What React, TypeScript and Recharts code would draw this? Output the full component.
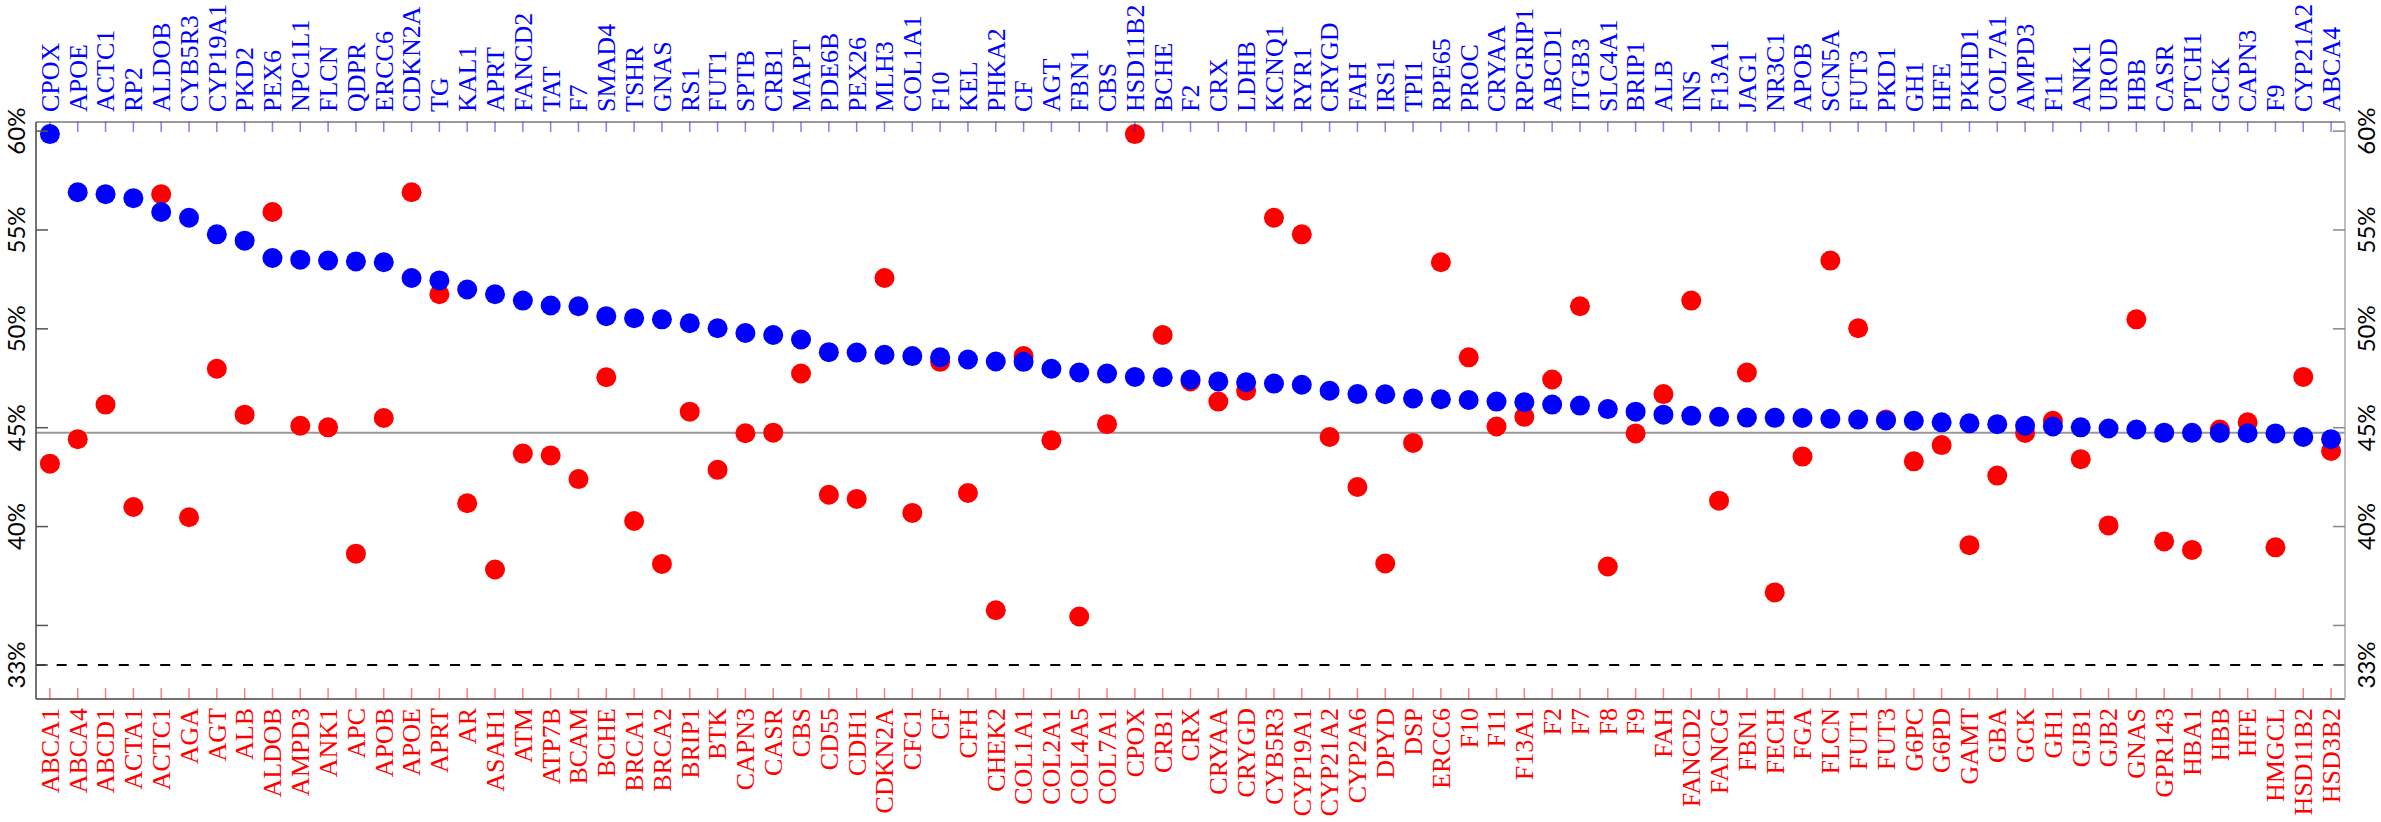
import React from 'react';
import { ScatterChart, Scatter, XAxis, YAxis, ReferenceLine } from 'recharts';

// genes sorted alphabetically (bottom axis, red)
const redGenes = [
  'ABCA1', 'ABCA4', 'ABCD1', 'ACTA1', 'ACTC1', 'AGA', 'AGT', 'ALB', 'ALDOB', 'AMPD3',
  'ANK1', 'APC', 'APOB', 'APOE', 'APRT', 'AR', 'ASAH1', 'ATM', 'ATP7B', 'BCAM',
  'BCHE', 'BRCA1', 'BRCA2', 'BRIP1', 'BTK', 'CAPN3', 'CASR', 'CBS', 'CD55', 'CDH1',
  'CDKN2A', 'CFC1', 'CF', 'CFH', 'CHEK2', 'COL1A1', 'COL2A1', 'COL4A5', 'COL7A1', 'CPOX',
  'CRB1', 'CRX', 'CRYAA', 'CRYGD', 'CYB5R3', 'CYP19A1', 'CYP21A2', 'CYP2A6', 'DPYD', 'DSP',
  'ERCC6', 'F10', 'F11', 'F13A1', 'F2', 'F7', 'F8', 'F9', 'FAH', 'FANCD2',
  'FANCG', 'FBN1', 'FECH', 'FGA', 'FLCN', 'FUT1', 'FUT3', 'G6PC', 'G6PD', 'GAMT',
  'GBA', 'GCK', 'GH1', 'GJB1', 'GJB2', 'GNAS', 'GPR143', 'HBA1', 'HBB', 'HFE',
  'HMGCL', 'HSD11B2', 'HSD3B2',
];

const redValues = [
  43.18, 44.42, 46.17, 40.99, 56.81, 40.47, 47.98, 45.66, 55.91, 45.10,
  45.02, 38.63, 45.49, 56.91, 51.75, 41.18, 37.83, 43.69, 43.60, 42.40,
  47.55, 40.28, 38.11, 45.81, 42.87, 44.72, 44.75, 47.74, 41.61, 41.40,
  52.57, 40.69, 48.33, 41.70, 35.77, 48.62, 44.36, 35.45, 45.18, 59.85,
  49.69, 47.34, 46.32, 46.87, 55.62, 54.78, 44.53, 42.00, 38.13, 44.23,
  53.37, 48.56, 45.06, 45.55, 47.44, 51.14, 37.98, 44.71, 46.70, 51.43,
  41.31, 47.79, 36.67, 43.54, 53.45, 50.03, 45.41, 43.30, 44.12, 39.06,
  42.58, 44.73, 45.35, 43.41, 40.06, 50.48, 39.25, 38.82, 44.91, 45.27,
  38.95, 47.57, 43.82,
];

// genes sorted by value (top axis, blue)
const blueGenes = [
  'CPOX', 'APOE', 'ACTC1', 'RP2', 'ALDOB', 'CYB5R3', 'CYP19A1', 'PKD2', 'PEX6', 'NPC1L1',
  'FLCN', 'QDPR', 'ERCC6', 'CDKN2A', 'TG', 'KAL1', 'APRT', 'FANCD2', 'TAT', 'F7',
  'SMAD4', 'TSHR', 'GNAS', 'RS1', 'FUT1', 'SPTB', 'CRB1', 'MAPT', 'PDE6B', 'PEX26',
  'MLH3', 'COL1A1', 'F10', 'KEL', 'PHKA2', 'CF', 'AGT', 'FBN1', 'CBS', 'HSD11B2',
  'BCHE', 'F2', 'CRX', 'LDHB', 'KCNQ1', 'RYR1', 'CRYGD', 'FAH', 'IRS1', 'TPI1',
  'RPE65', 'PROC', 'CRYAA', 'RPGRIP1', 'ABCD1', 'ITGB3', 'SLC4A1', 'BRIP1', 'ALB', 'INS',
  'F13A1', 'JAG1', 'NR3C1', 'APOB', 'SCN5A', 'FUT3', 'PKD1', 'GH1', 'HFE', 'PKHD1',
  'COL7A1', 'AMPD3', 'F11', 'ANK1', 'UROD', 'HBB', 'CASR', 'PTCH1', 'GCK', 'CAPN3',
  'F9', 'CYP21A2', 'ABCA4',
];

const blueValues = [
  59.85, 56.91, 56.81, 56.61, 55.91, 55.62, 54.78, 54.46, 53.58, 53.50,
  53.45, 53.41, 53.37, 52.57, 52.45, 51.99, 51.75, 51.43, 51.18, 51.14,
  50.64, 50.54, 50.48, 50.28, 50.03, 49.79, 49.69, 49.46, 48.82, 48.80,
  48.69, 48.62, 48.56, 48.45, 48.35, 48.33, 47.98, 47.79, 47.74, 47.57,
  47.55, 47.44, 47.34, 47.30, 47.23, 47.17, 46.87, 46.70, 46.69, 46.48,
  46.44, 46.40, 46.32, 46.29, 46.17, 46.12, 45.94, 45.81, 45.66, 45.60,
  45.55, 45.51, 45.50, 45.49, 45.45, 45.41, 45.37, 45.35, 45.27, 45.22,
  45.18, 45.10, 45.06, 45.02, 44.96, 44.91, 44.75, 44.74, 44.73, 44.72,
  44.71, 44.53, 44.42,
];

const yTicks = [33, 35, 40, 45, 50, 55, 60];
const yTickLabels: Record<number, string> = { 33: '33%', 35: '', 40: '40%', 45: '45%', 50: '50%', 55: '55%', 60: '60%' };
const meanLevel = 44.75;
const floorLevel = 33;

const redPoints = redValues.map((value, idx) => ({ idx, value }));
const bluePoints = blueValues.map((value, idx) => ({ idx, value }));
const positions = redGenes.map((_, i) => i);

const serif = "'Liberation Serif', 'Times New Roman', serif";
const sans = "Lato, 'Open Sans', sans-serif";

function BottomTick({ x, y, payload }: any) {
  return (
    <g transform={`translate(${x},${y})`}>
      <line x1={0} y1={0} x2={0} y2={-11} stroke="#ff0000" strokeOpacity={0.5} strokeWidth={1.5} />
      <text transform="rotate(-90)" x={-9} y={0} dy="0.34em" textAnchor="end" fill="#ff0000" fontFamily={serif} fontSize={26}>
        {redGenes[payload.value]}
      </text>
    </g>
  );
}

function TopTick({ x, y, payload }: any) {
  return (
    <g transform={`translate(${x},${y})`}>
      <line x1={0} y1={0} x2={0} y2={10} stroke="#0000ff" strokeOpacity={0.5} strokeWidth={1.5} />
      <text transform="rotate(-90)" x={10} y={0} dy="0.34em" textAnchor="start" fill="#0000ff" fontFamily={serif} fontSize={26}>
        {blueGenes[payload.value]}
      </text>
    </g>
  );
}

// rotated percent labels, baseline kept close to the frame
function LeftTick({ x, y, payload }: any) {
  return (
    <g transform={`translate(${x},${y})`}>
      <line x1={0} y1={0} x2={12} y2={0} stroke="#555" strokeWidth={1.5} />
      <text transform="rotate(-90)" x={0} y={-11} textAnchor="middle" fill="#000" fontFamily={sans} fontSize={24}>
        {yTickLabels[payload.value]}
      </text>
    </g>
  );
}

function RightTick({ x, y, payload }: any) {
  return (
    <g transform={`translate(${x},${y})`}>
      <line x1={0} y1={0} x2={-12} y2={0} stroke="#888" strokeWidth={1.5} />
      <text transform="rotate(-90)" x={0} y={30} textAnchor="middle" fill="#000" fontFamily={sans} fontSize={24}>
        {yTickLabels[payload.value]}
      </text>
    </g>
  );
}

const dot = (color: string) => (props: any) => (
  <circle cx={props.cx} cy={props.cy} r={10} fill={color} stroke="none" />
);

export default function App() {
  return (
    <div style={{ position: 'absolute', left: 0, top: 0, width: 2381, height: 822, background: '#fff' }}>
      <ScatterChart width={2381} height={822} margin={{ top: 0, right: 0, bottom: 0, left: 0 }}>
        <XAxis
          xAxisId="bottom"
          type="number"
          dataKey="idx"
          domain={[-0.5, 82.5]}
          ticks={positions}
          interval={0}
          allowDataOverflow
          height={123}
          tickSize={0}
          tickMargin={0}
          tickLine={false}
          tick={<BottomTick />}
          axisLine={{ stroke: '#444', strokeWidth: 1.5 }}
        />
        <XAxis
          xAxisId="top"
          orientation="top"
          type="number"
          dataKey="idx"
          domain={[-0.5, 82.5]}
          ticks={positions}
          interval={0}
          allowDataOverflow
          height={122}
          tickSize={0}
          tickMargin={0}
          tickLine={false}
          tick={<TopTick />}
          axisLine={{ stroke: '#777', strokeWidth: 1.5 }}
        />
        <YAxis
          yAxisId="left"
          type="number"
          dataKey="value"
          domain={[31.28, 60.46]}
          ticks={yTicks}
          interval={0}
          allowDataOverflow
          width={36}
          tickSize={0}
          tickMargin={0}
          tickLine={false}
          tick={<LeftTick />}
          axisLine={{ stroke: '#444', strokeWidth: 1.5 }}
        />
        <YAxis
          yAxisId="right"
          orientation="right"
          type="number"
          dataKey="value"
          domain={[31.28, 60.46]}
          ticks={yTicks}
          interval={0}
          allowDataOverflow
          width={36}
          tickSize={0}
          tickMargin={0}
          tickLine={false}
          tick={<RightTick />}
          axisLine={{ stroke: '#aaa', strokeWidth: 1.5 }}
        />
        <ReferenceLine xAxisId="bottom" yAxisId="left" y={meanLevel} stroke="#999" strokeWidth={2} />
        <ReferenceLine xAxisId="bottom" yAxisId="left" y={floorLevel} stroke="#000" strokeWidth={2} strokeDasharray="10 10.7" />
        <Scatter data={redPoints} xAxisId="bottom" yAxisId="left" fill="#ff0000" shape={dot('#ff0000')} isAnimationActive={false} />
        <Scatter data={bluePoints} xAxisId="top" yAxisId="right" fill="#0000ff" shape={dot('#0000ff')} isAnimationActive={false} />
      </ScatterChart>
    </div>
  );
}
